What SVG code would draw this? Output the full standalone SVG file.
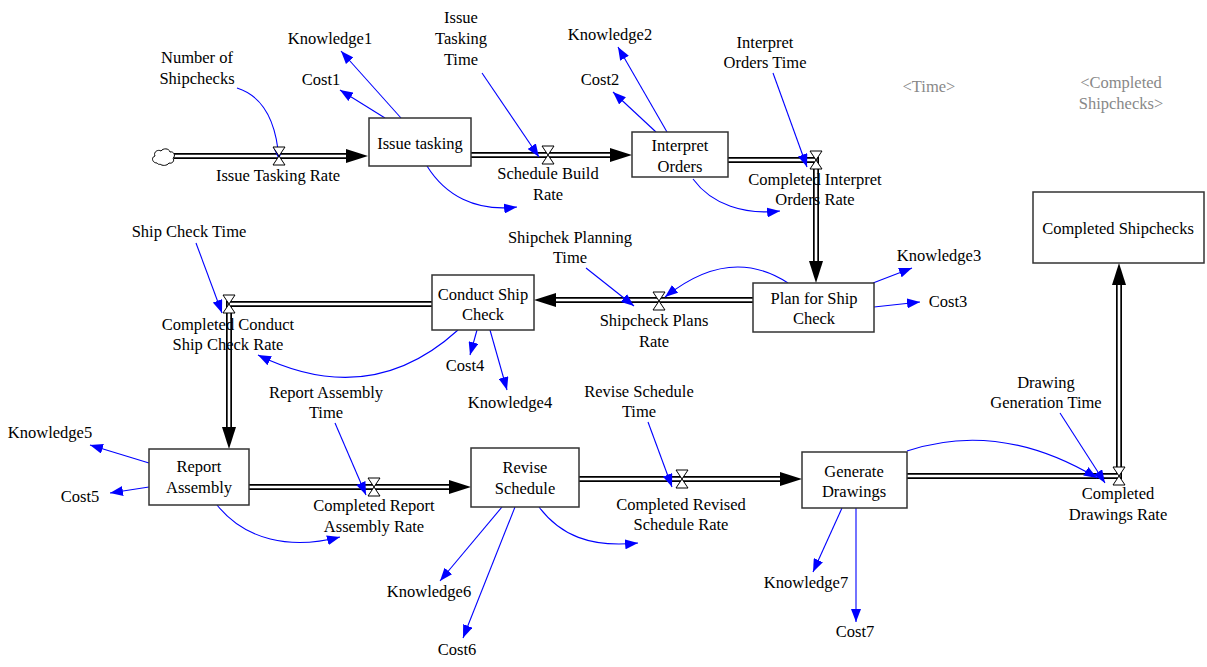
<svg xmlns="http://www.w3.org/2000/svg" width="1207" height="667" viewBox="0 0 1207 667">
<style>
text{font-family:"Liberation Serif","Times New Roman",serif;font-size:16.5px;fill:#000;text-anchor:middle}
.shadow{fill:#888}
.stock{fill:#fff;stroke:#333;stroke-width:1.5}
.po{fill:none;stroke:#000;stroke-width:6;stroke-linejoin:miter}
.pi{fill:none;stroke:#fff;stroke-width:2.6;stroke-linejoin:miter}
.fa{fill:#000}
.link{fill:none;stroke:#0000ff;stroke-width:1.1;marker-end:url(#bh)}
</style>
<defs>
<marker id="bh" markerUnits="userSpaceOnUse" markerWidth="14" markerHeight="10" refX="13" refY="5" orient="auto"><path d="M0,0 L13,5 L0,10 z" fill="#0000ff"/></marker>
<path id="valve" d="M-6,-9 H6 L-6,9 H6 Z" fill="#fff" stroke="#000" stroke-width="1"/>
</defs>

<g id="flows">
<path class="po" d="M174,156 H347"/><path class="pi" d="M174,156 H347"/>
<polygon class="fa" points="368,156 346,149 346,163"/>
<path class="po" d="M471,155 H611"/><path class="pi" d="M471,155 H611"/>
<polygon class="fa" points="632,155 610,148 610,162"/>
<path class="po" d="M728,160 H816 V263"/><path class="pi" d="M728,160 H816 V263"/>
<polygon class="fa" points="816,283 809,261 823,261"/>
<path class="po" d="M753,300 H555"/><path class="pi" d="M753,300 H555"/>
<polygon class="fa" points="534,300 556,293 556,307"/>
<path class="po" d="M432,304 H229 V429"/><path class="pi" d="M432,304 H229 V429"/>
<polygon class="fa" points="229,449 222,427 236,427"/>
<path class="po" d="M249,487 H450"/><path class="pi" d="M249,487 H450"/>
<polygon class="fa" points="471,487 449,480 449,494"/>
<path class="po" d="M579,479 H781"/><path class="pi" d="M579,479 H781"/>
<polygon class="fa" points="802,479 780,472 780,486"/>
<path class="po" d="M907,476 H1119 V284"/><path class="pi" d="M907,476 H1119 V284"/>
<polygon class="fa" points="1119,263 1112,285 1126,285"/>
</g>

<g id="cloud">
<path d="M157,163 c-5,0 -6,-6 -2,-7 c-2,-4 3,-7 6,-5 c2,-3 8,-3 9,1 c4,-1 6,4 3,6 c2,3 -1,6 -4,5 c-2,3 -7,3 -9,1 c-1,1 -2,0 -3,-1 z" fill="#fff" stroke="#000" stroke-width="1"/>
</g>

<g id="connectors">
<path class="link" d="M237,88 Q275,100 279,160"/>
<path class="link" d="M401,118 L341,51"/>
<path class="link" d="M385,118 L340,90"/>
<path class="link" d="M427,166 C445,195 475,212 517,207"/>
<path class="link" d="M482,73 L539,157"/>
<path class="link" d="M667,132 L618,47"/>
<path class="link" d="M656,132 L613,92"/>
<path class="link" d="M773,73 L807,167"/>
<path class="link" d="M693,179 C712,205 745,215 780,211"/>
<path class="link" d="M788,283 Q730,245 665,297"/>
<path class="link" d="M586,268 L634,306"/>
<path class="link" d="M873,283 L912,268"/>
<path class="link" d="M874,307 L920,302"/>
<path class="link" d="M196,243 L222,313"/>
<path class="link" d="M458,330 Q370,410 258,355"/>
<path class="link" d="M477,330 L470,355"/>
<path class="link" d="M490,330 L507,390"/>
<path class="link" d="M335,423 L366,495"/>
<path class="link" d="M149,463 L90,445"/>
<path class="link" d="M149,487 L110,493"/>
<path class="link" d="M217,505 C245,540 290,550 340,537"/>
<path class="link" d="M648,422 L672,487"/>
<path class="link" d="M502,507 L440,581"/>
<path class="link" d="M515,507 L463,638"/>
<path class="link" d="M539,507 C560,535 590,548 638,543"/>
<path class="link" d="M907,451 Q1000,420 1097,478"/>
<path class="link" d="M1060,413 L1105,483"/>
<path class="link" d="M842,508 L813,572"/>
<path class="link" d="M856,508 L856,622"/>
</g>

<g id="valves">
<use href="#valve" x="279" y="156"/>
<use href="#valve" x="548" y="155"/>
<use href="#valve" x="816" y="160"/>
<use href="#valve" x="659" y="301"/>
<use href="#valve" x="229" y="304"/>
<use href="#valve" x="374" y="487"/>
<use href="#valve" x="682" y="479"/>
<use href="#valve" x="1119" y="476"/>
</g>

<g id="issue-tasking"><rect class="stock" x="369" y="118" width="102" height="48"/><text x="420" y="149">Issue tasking</text></g>
<g id="interpret-orders"><rect class="stock" x="632" y="132" width="96" height="45"/><text x="680" y="151">Interpret</text><text x="680" y="172">Orders</text></g>
<g id="plan-for-ship-check"><rect class="stock" x="753" y="283" width="121" height="49"/><text x="814" y="304">Plan for Ship</text><text x="814" y="324">Check</text></g>
<g id="conduct-ship-check"><rect class="stock" x="432" y="275" width="102" height="55"/><text x="483" y="300">Conduct Ship</text><text x="483" y="320">Check</text></g>
<g id="report-assembly"><rect class="stock" x="149" y="449" width="100" height="56"/><text x="199" y="472">Report</text><text x="199" y="493">Assembly</text></g>
<g id="revise-schedule"><rect class="stock" x="471" y="448" width="108" height="59"/><text x="525" y="473">Revise</text><text x="525" y="494">Schedule</text></g>
<g id="generate-drawings"><rect class="stock" x="802" y="452" width="105" height="56"/><text x="854" y="477">Generate</text><text x="854" y="497">Drawings</text></g>
<g id="completed-shipchecks"><rect class="stock" x="1033" y="192" width="171" height="71"/><text x="1118" y="234">Completed Shipchecks</text></g>

<g id="number-of-shipchecks"><text x="197" y="63">Number of</text><text x="197" y="84">Shipchecks</text></g>
<g id="knowledge1"><text x="330" y="44">Knowledge1</text></g>
<g id="cost1"><text x="321" y="85">Cost1</text></g>
<g id="issue-tasking-time"><text x="461" y="23">Issue</text><text x="461" y="44">Tasking</text><text x="461" y="65">Time</text></g>
<g id="knowledge2"><text x="610" y="40">Knowledge2</text></g>
<g id="cost2"><text x="600" y="85">Cost2</text></g>
<g id="interpret-orders-time"><text x="765" y="48">Interpret</text><text x="765" y="68">Orders Time</text></g>
<g id="time"><text class="shadow" x="929" y="92">&lt;Time&gt;</text></g>
<g id="completed-shipchecks-shadow"><text class="shadow" x="1121" y="88">&lt;Completed</text><text class="shadow" x="1121" y="109">Shipchecks&gt;</text></g>
<g id="issue-tasking-rate"><text x="278" y="181">Issue Tasking Rate</text></g>
<g id="schedule-build-rate"><text x="548" y="179">Schedule Build</text><text x="548" y="200">Rate</text></g>
<g id="completed-interpret-orders-rate"><text x="815" y="185">Completed Interpret</text><text x="815" y="205">Orders Rate</text></g>
<g id="ship-check-time"><text x="189" y="237">Ship Check Time</text></g>
<g id="shipchek-planning-time"><text x="570" y="243">Shipchek Planning</text><text x="570" y="263">Time</text></g>
<g id="knowledge3"><text x="939" y="261">Knowledge3</text></g>
<g id="cost3"><text x="948" y="307">Cost3</text></g>
<g id="shipcheck-plans-rate"><text x="654" y="326">Shipcheck Plans</text><text x="654" y="347">Rate</text></g>
<g id="completed-conduct-ship-check-rate"><text x="228" y="330">Completed Conduct</text><text x="228" y="350">Ship Check Rate</text></g>
<g id="cost4"><text x="465" y="371">Cost4</text></g>
<g id="knowledge4"><text x="510" y="408">Knowledge4</text></g>
<g id="report-assembly-time"><text x="326" y="398">Report Assembly</text><text x="326" y="418">Time</text></g>
<g id="revise-schedule-time"><text x="639" y="397">Revise Schedule</text><text x="639" y="417">Time</text></g>
<g id="drawing-generation-time"><text x="1046" y="388">Drawing</text><text x="1046" y="408">Generation Time</text></g>
<g id="knowledge5"><text x="50" y="438">Knowledge5</text></g>
<g id="cost5"><text x="80" y="502">Cost5</text></g>
<g id="completed-report-assembly-rate"><text x="374" y="511">Completed Report</text><text x="374" y="532">Assembly Rate</text></g>
<g id="completed-revised-schedule-rate"><text x="681" y="510">Completed Revised</text><text x="681" y="530">Schedule Rate</text></g>
<g id="completed-drawings-rate"><text x="1118" y="499">Completed</text><text x="1118" y="520">Drawings Rate</text></g>
<g id="knowledge6"><text x="429" y="597">Knowledge6</text></g>
<g id="cost6"><text x="457" y="655">Cost6</text></g>
<g id="knowledge7"><text x="806" y="588">Knowledge7</text></g>
<g id="cost7"><text x="855" y="637">Cost7</text></g>
</svg>
